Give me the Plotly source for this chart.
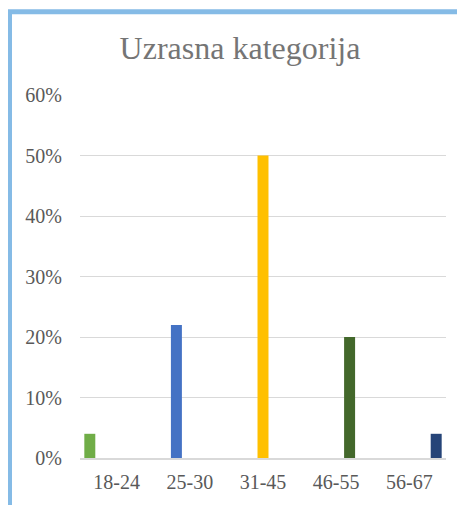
import plotly.graph_objects as go

categories = ["18-24", "25-30", "31-45", "46-55", "56-67"]
values = [0.04, 0.22, 0.50, 0.20, 0.04]
colors = ["#70AD47", "#4472C4", "#FFC000", "#43682B", "#264478"]
y_ticks = [0, 0.1, 0.2, 0.3, 0.4, 0.5, 0.6]
title_text = "Uzrasna kategorija"

# page body has an 8px margin; lay out in figure coordinates
OFF = 8
W, H = 465 - OFF, 505 - OFF
ML, MT = 80 - OFF, 95 - OFF
MR = W - (446 - OFF)
MB = H - (458 - OFF)
PW, PH = W - ML - MR, H - MT - MB

fig = go.Figure()
for i, cat in enumerate(categories):
    fig.add_trace(go.Bar(
        x=categories,
        y=[v if j == i else None for j, v in enumerate(values)],
        name=cat,
        marker=dict(color=colors[i], line=dict(width=0)),
        showlegend=False,
    ))

def px_x(p):
    return (p - OFF - ML) / PW

def px_y(p):
    return (H - MB - (p - OFF)) / PH

font = "Liberation Serif, Times New Roman, serif"
fig.update_layout(
    width=W, height=H,
    margin=dict(l=ML, r=MR, t=MT, b=MB),
    paper_bgcolor="white", plot_bgcolor="white",
    barmode="group", bargap=0.085, bargroupgap=0.18,
    title=dict(text=title_text, x=(240 - OFF) / W, xref="container", xanchor="center",
               y=1 - (48 - OFF) / H, yref="container", yanchor="middle",
               font=dict(family=font, size=32, color="#757575")),
    xaxis=dict(showgrid=False, showline=True, linecolor="#D9D9D9", linewidth=1.5,
               tickfont=dict(family=font, size=20, color="#595959"),
               ticks="outside", ticklen=5, tickcolor="rgba(0,0,0,0)", zeroline=False),
    yaxis=dict(range=[0, 0.6], tickvals=y_ticks, tickformat=".0%",
               showgrid=True, gridcolor="#D9D9D9", gridwidth=1, zeroline=False,
               showline=False,
               tickfont=dict(family=font, size=20, color="#595959"),
               ticks="outside", ticklen=13, tickcolor="rgba(0,0,0,0)"),
    shapes=[dict(type="rect", xref="paper", yref="paper",
                 x0=px_x(9.5), x1=px_x(480), y0=px_y(525), y1=px_y(11.75),
                 line=dict(color="#85BBE6", width=5), fillcolor="rgba(0,0,0,0)",
                 layer="above")],
)

fig.write_html("out.html")
